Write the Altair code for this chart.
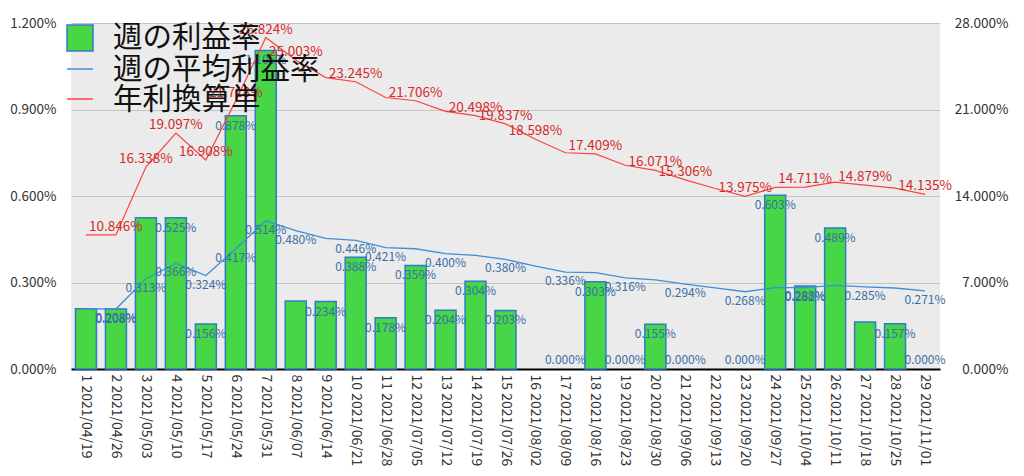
import altair as alt
import pandas as pd

# ---- data ----
weeks = list(range(1, 30))
dates = ["2021/04/19", "2021/04/26", "2021/05/03", "2021/05/10", "2021/05/17", "2021/05/24",
         "2021/05/31", "2021/06/07", "2021/06/14", "2021/06/21", "2021/06/28", "2021/07/05",
         "2021/07/12", "2021/07/19", "2021/07/26", "2021/08/02", "2021/08/09", "2021/08/16",
         "2021/08/23", "2021/08/30", "2021/09/06", "2021/09/13", "2021/09/20", "2021/09/27",
         "2021/10/04", "2021/10/11", "2021/10/18", "2021/10/25", "2021/11/01"]
weekly_rate = [0.209, 0.208, 0.525, 0.525, 0.156, 0.878, 1.105, 0.236, 0.234, 0.388,
               0.178, 0.359, 0.204, 0.304, 0.203, 0.000, 0.000, 0.303, 0.000, 0.155,
               0.000, 0.000, 0.000, 0.603, 0.288, 0.489, 0.163, 0.157, 0.000]
avg_rate = [0.209, 0.208, 0.313, 0.366, 0.324, 0.417, 0.514, 0.480, 0.453, 0.446,
            0.421, 0.417, 0.400, 0.394, 0.380, 0.357, 0.336, 0.334, 0.316, 0.309,
            0.294, 0.281, 0.268, 0.282, 0.282, 0.290, 0.285, 0.281, 0.271]
annual_rate = [10.85, 10.846, 16.338, 19.097, 16.908, 21.718, 26.824, 25.003, 23.58, 23.245,
               21.97, 21.706, 20.85, 20.498, 19.837, 18.598, 17.50, 17.409, 16.49, 16.071,
               15.306, 14.61, 13.975, 14.70, 14.711, 15.12, 14.879, 14.64, 14.135]
# which data labels are visible in the reference (1 = shown)
bar_label_shown = [0, 1, 0, 1, 1, 1, 1, 0, 1, 1, 1, 1, 1, 1, 1, 0, 1, 1, 1, 1, 1, 0, 1, 1, 1, 1, 0, 1, 1]
avg_label_shown = [0, 1, 1, 1, 1, 1, 1, 1, 0, 1, 1, 0, 1, 0, 1, 0, 1, 0, 1, 0, 1, 0, 1, 0, 1, 0, 1, 0, 1]
ann_label_shown = [0, 1, 1, 1, 1, 1, 1, 1, 0, 1, 0, 1, 0, 1, 1, 1, 0, 1, 0, 1, 1, 0, 1, 0, 1, 0, 1, 0, 1]
series_names = ["週の利益率", "週の平均利益率", "年利換算単"]
left_ticks = [0, 0.3, 0.6, 0.9, 1.2]
right_ticks = [0, 7, 14, 21, 28]

labels = [f"{w} {d}" for w, d in zip(weeks, dates)]
df = pd.DataFrame({
    "label": labels, "weekly": weekly_rate, "avg": avg_rate, "annual": annual_rate,
    "bshow": bar_label_shown, "ashow": avg_label_shown, "rshow": ann_label_shown,
})

FONT = "Noto Sans CJK JP"
GREEN = "#46d646"
BAR_STROKE = "#2f7cc4"
BLUE = "#3d8fd6"
BLUE_TXT = "#3a6ea6"
RED = "#ff4040"
RED_TXT = "#d42a2a"

x_enc = alt.X("label:N", sort=labels,
              scale=alt.Scale(paddingInner=0.3, paddingOuter=0.15),
              axis=alt.Axis(title=None, labelAngle=90, labelFontSize=14, labelColor="#333",
                            labelFont=FONT, ticks=False, domainColor="#000", domainWidth=2,
                            labelPadding=5, labelOverlap=False))

LSCALE = alt.Scale(domain=[0, 1.2], nice=False)
RSCALE = alt.Scale(domain=[0, 28], nice=False)

y_left = alt.Y("weekly:Q", scale=LSCALE,
               axis=alt.Axis(title=None, values=left_ticks,
                             labelExpr="format(datum.value, '.3f') + '%'",
                             grid=True, gridColor="#c4c4c4", gridWidth=1,
                             domain=False, ticks=False, labelPadding=15,
                             labelFontSize=13.5, labelColor="#333", labelFont=FONT))

base = alt.Chart(df)

bars = base.transform_filter("datum.weekly > 0").mark_bar(
    fill=GREEN, stroke=BAR_STROKE, strokeWidth=1.5).encode(x=x_enc, y=y_left)

avg_line = base.mark_line(color=BLUE, strokeWidth=1.3).encode(
    x=x_enc, y=alt.Y("avg:Q", scale=LSCALE))

bar_text = base.transform_filter("datum.bshow == 1 && datum.weekly > 0").transform_calculate(
    t="format(datum.weekly, '.3f') + '%'"
).mark_text(fontSize=12, font=FONT, color=BLUE_TXT, dy=10, baseline="middle").encode(
    x=x_enc, y=alt.Y("weekly:Q", scale=LSCALE), text="t:N")

zero_text = base.transform_filter("datum.bshow == 1 && datum.weekly == 0").transform_calculate(
    t="format(datum.weekly, '.3f') + '%'"
).mark_text(fontSize=12, font=FONT, color=BLUE_TXT, dy=-9, baseline="middle").encode(
    x=x_enc, y=alt.Y("weekly:Q", scale=LSCALE), text="t:N")

avg_text = base.transform_filter("datum.ashow == 1").transform_calculate(
    t="format(datum.avg, '.3f') + '%'"
).mark_text(fontSize=12, font=FONT, color=BLUE_TXT, dy=9, baseline="middle").encode(
    x=x_enc, y=alt.Y("avg:Q", scale=LSCALE), text="t:N")

left = alt.layer(bars, avg_line, bar_text, zero_text, avg_text)

y_right = alt.Y("annual:Q", scale=RSCALE,
                axis=alt.Axis(title=None, orient="right", values=right_ticks,
                              labelExpr="format(datum.value, '.3f') + '%'",
                              grid=False, domain=False, ticks=False,
                              labelAlign="right", labelPadding=68,
                              labelFontSize=13.5, labelColor="#333", labelFont=FONT))

red_line = base.mark_line(color=RED, strokeWidth=1.2).encode(x=x_enc, y=y_right)
red_text = base.transform_filter("datum.rshow == 1").transform_calculate(
    t="format(datum.annual, '.3f') + '%'"
).mark_text(fontSize=13.5, font=FONT, color=RED_TXT, dy=-8, baseline="middle").encode(
    x=x_enc, y=alt.Y("annual:Q", scale=RSCALE), text="t:N")

right = alt.layer(red_line, red_text)

# ---- manual legend (drawn on top) ----
one = alt.Data(values=[{"k": 0}])
leg_rect = alt.Chart(one).mark_rect(fill=GREEN, stroke=BAR_STROKE, strokeWidth=1.5).encode(
    x=alt.value(-4), x2=alt.value(22), y=alt.value(2), y2=alt.value(28))
leg_blue = alt.Chart(one).mark_rule(color=BLUE, strokeWidth=1.5).encode(
    x=alt.value(-4), x2=alt.value(22), y=alt.value(46))
leg_red = alt.Chart(one).mark_rule(color=RED, strokeWidth=1.5).encode(
    x=alt.value(-4), x2=alt.value(22), y=alt.value(76))
leg_texts = []
for name, yy in zip(series_names, [15, 47, 77]):
    leg_texts.append(
        alt.Chart(alt.Data(values=[{"n": name}])).mark_text(
            fontSize=29.5, font=FONT, color="#111", align="left", baseline="middle"
        ).encode(x=alt.value(42), y=alt.value(yy), text="n:N"))

chart = alt.layer(left, right, leg_rect, leg_blue, leg_red, *leg_texts).resolve_scale(
    y="independent"
).properties(
    width=869, height=346,
    autosize=alt.AutoSizeParams(type="none"),
    padding={"left": 63, "top": 15, "right": 76, "bottom": 99},
).configure_view(fill="#ebebeb", stroke=None)

chart.save("out.html", embed_options={"renderer": "svg", "actions": False})
